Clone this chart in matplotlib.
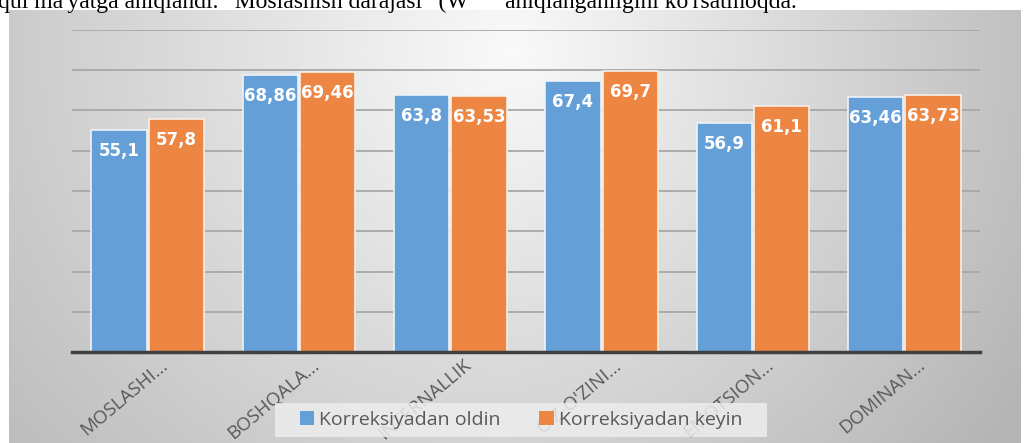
import matplotlib
matplotlib.use("Agg")
import matplotlib.pyplot as plt
import matplotlib.transforms as mtrans
from matplotlib.patches import Rectangle, Patch
import numpy as np

categories = ["MOSLASHI...", "BOSHQALA...", "INTERNALLIK", "O'Z-O'ZINI...", "EMOTSION...", "DOMINAN..."]
before = [55.1, 68.86, 63.8, 67.4, 56.9, 63.46]
after = [57.8, 69.46, 63.53, 69.7, 61.1, 63.73]
before_lbl = ["55,1", "68,86", "63,8", "67,4", "56,9", "63,46"]
after_lbl = ["57,8", "69,46", "63,53", "69,7", "61,1", "63,73"]
legend_names = ["Korreksiyadan oldin", "Korreksiyadan keyin"]

W, H = 1024, 443
BLUE = "#649FD8"
ORANGE = "#EE8643"

fig = plt.figure(figsize=(W / 100, H / 100), dpi=100)
fig.set_facecolor("white")

def px(x0, y0, x1, y1):
    # pixel box (top-left origin) -> figure rect
    return [x0 / W, 1 - y1 / H, (x1 - x0) / W, (y1 - y0) / H]

# gradient background of the chart area
bg = fig.add_axes(px(9, 10, 1021, 443), zorder=-5)
gx, gy = np.meshgrid(np.linspace(9, 1021, 400), np.linspace(10, 443, 200))
r = np.sqrt(((gx - 512) / 560) ** 2 + ((gy - 50) / 520) ** 2)
g = 250 - 52 * r - 10 * np.clip((gx - 512) / 510, 0, 1)
g = np.clip(g, 180, 252) / 255
bg.imshow(np.dstack([g, g, g]), aspect="auto", extent=(0, 1, 0, 1))
bg.axis("off")

# top document line (clipped by the page crop)
base = 1 - 8 / H
tkw = dict(family="Liberation Serif", fontsize=17, color="black", va="baseline")
fig.text(-2 / W, base, "qui ma'yatga aniqlandi. \u201cMoslashish darajasi\u201d (W", ha="left", **tkw)
fig.text(505 / W, base, "aniqlanganligini ko'rsatmoqda.", ha="left", **tkw)

ax = fig.add_axes(px(72, 30, 980, 352))
ax.patch.set_alpha(0)
x = np.arange(len(categories))
off, bw = 0.19, 0.365
b1 = ax.bar(x - off, before, bw, color=BLUE, edgecolor="#eef3f8", linewidth=1.2, zorder=3)
b2 = ax.bar(x + off, after, bw, color=ORANGE, edgecolor="#f8eee6", linewidth=1.2, zorder=3)

for bars, labels in ((b1, before_lbl), (b2, after_lbl)):
    for rect, lab in zip(bars, labels):
        ax.annotate(lab, (rect.get_x() + rect.get_width() / 2, rect.get_height()),
                    xytext=(0, -21), textcoords="offset pixels", ha="center", va="center",
                    color="white", fontsize=12, fontweight="bold", family="DejaVu Sans", zorder=4)

ax.set_xlim(-0.5, 5.5)
ax.set_ylim(0, 80)
ax.set_yticks(np.arange(10, 81, 10))
ax.yaxis.grid(True, color="#a8a8a8", linewidth=1.3, zorder=0)
ax.tick_params(axis="y", left=False, labelleft=False)
ax.tick_params(axis="x", bottom=False, pad=0)
for s in ["top", "right", "left"]:
    ax.spines[s].set_visible(False)
ax.spines["bottom"].set_color("#404040")
ax.spines["bottom"].set_linewidth(2.5)
ax.spines["bottom"].set_zorder(5)

ax.set_xticks(x)
ax.set_xticklabels(categories, rotation=40, rotation_mode="anchor", ha="right", va="center",
                   family="Open Sans", fontsize=13.5, color="#595959")
shift = mtrans.ScaledTranslation(18 / 100, -6 / 100, fig.dpi_scale_trans)
for lbl in ax.get_xticklabels():
    lbl.set_transform(lbl.get_transform() + shift)

# legend box
fig.patches.append(Rectangle((275 / W, 1 - 437 / H), 492 / W, 34 / H, transform=fig.transFigure,
                             facecolor="#ededed", edgecolor="none", alpha=0.85, zorder=4))
handles = [Patch(facecolor=BLUE), Patch(facecolor=ORANGE)]
leg = fig.legend(handles, legend_names, loc="center", bbox_to_anchor=(521 / W, 1 - 420 / H),
                 ncol=2, frameon=False, handlelength=0.75, handleheight=0.75, handletextpad=0.25,
                 columnspacing=2.0, prop={"family": "Open Sans", "size": 14})
for t in leg.get_texts():
    t.set_color("#595959")
leg.set_zorder(6)

fig.savefig("out.png", dpi=100)
